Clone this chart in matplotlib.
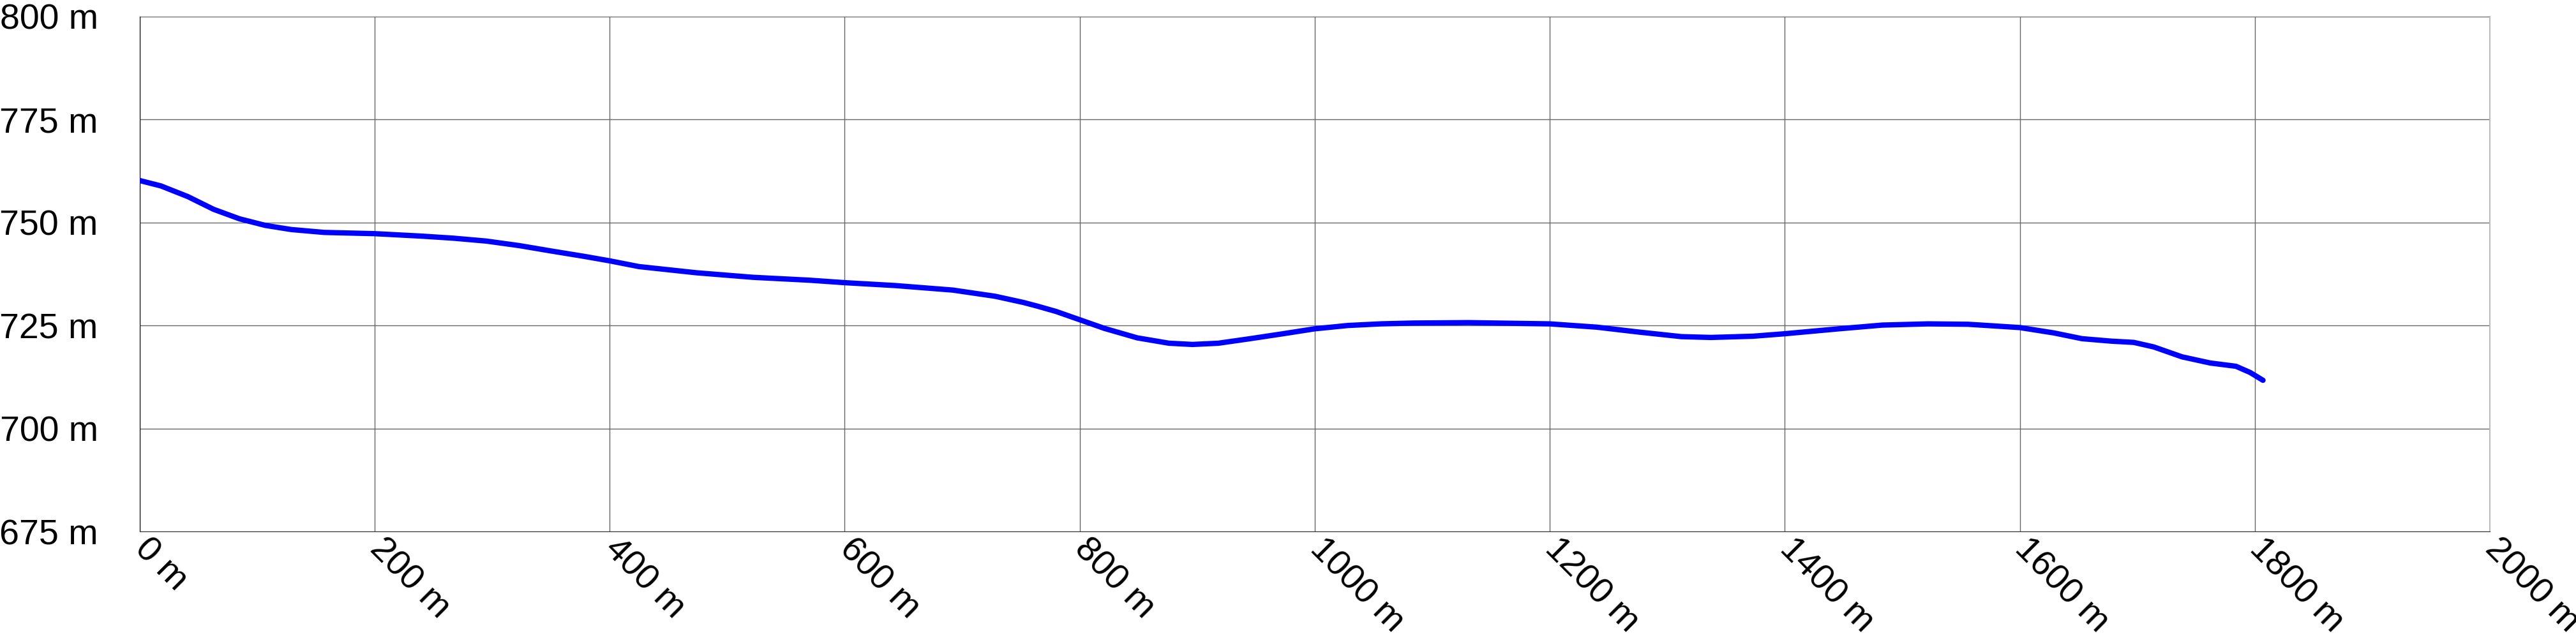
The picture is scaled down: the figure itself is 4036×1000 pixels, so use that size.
import matplotlib.pyplot as plt
from matplotlib.ticker import FuncFormatter

# elevation profile
distance = [0, 18, 41, 63, 85, 107, 129, 157, 200, 240, 267, 295, 323, 350, 378,
            400, 425, 474, 522, 570, 600, 643, 692, 728, 752, 764, 780, 800, 821,
            849, 876, 896, 918, 945, 973, 1000, 1028, 1056, 1084, 1131, 1200, 1240,
            1276, 1312, 1337, 1373, 1400, 1446, 1483, 1522, 1556, 1600, 1629, 1653,
            1678, 1697, 1714, 1738, 1762, 1784, 1796, 1807]
elevation = [760.2, 758.9, 756.3, 753.2, 750.9, 749.3, 748.3, 747.6, 747.3, 746.7,
             746.2, 745.5, 744.4, 743.1, 741.8, 740.7, 739.3, 737.8, 736.7, 736.0,
             735.4, 734.7, 733.6, 732.1, 730.6, 729.7, 728.4, 726.4, 724.3, 722.0,
             720.7, 720.4, 720.7, 721.8, 723.0, 724.2, 725.0, 725.4, 725.6, 725.7,
             725.4, 724.6, 723.4, 722.3, 722.1, 722.4, 723.0, 724.2, 725.1, 725.4,
             725.3, 724.5, 723.2, 721.8, 721.2, 720.9, 719.8, 717.4, 715.9, 715.1,
             713.6, 711.7]

x_ticks = [0, 200, 400, 600, 800, 1000, 1200, 1400, 1600, 1800, 2000]
y_ticks = [675, 700, 725, 750, 775, 800]

plt.rcParams['font.family'] = ['Liberation Sans', 'DejaVu Sans']

fig = plt.figure(figsize=(40.37, 10), dpi=100)
ax = fig.add_axes([0.0542, 0.167, 0.9121, 0.807])

ax.plot(distance, elevation, color='#0000ff', linewidth=6, solid_capstyle='round',
        solid_joinstyle='round', zorder=3)

ax.set_xlim(0, 2000)
ax.set_ylim(675, 800)
ax.set_xticks(x_ticks)
ax.set_yticks(y_ticks)
ax.xaxis.set_major_formatter(FuncFormatter(lambda v, p: f"{v:.0f} m"))
ax.yaxis.set_major_formatter(FuncFormatter(lambda v, p: f"{v:.0f} m"))

ax.grid(True, color='#666666', linewidth=1.0)
ax.tick_params(axis='both', length=0, labelsize=40)
ax.tick_params(axis='y', pad=47)
ax.tick_params(axis='x', pad=14)
for lbl in ax.get_xticklabels():
    lbl.set_rotation(-45)
    lbl.set_rotation_mode('anchor')
    lbl.set_ha('left')
    lbl.set_va('center')

ax.spines['left'].set_color('black')
ax.spines['bottom'].set_color('#333333')
ax.spines['top'].set_visible(False)
ax.spines['right'].set_color('#bbbbbb')
ax.spines['right'].set_linewidth(1.5)

fig.savefig('out.png', dpi=100)
